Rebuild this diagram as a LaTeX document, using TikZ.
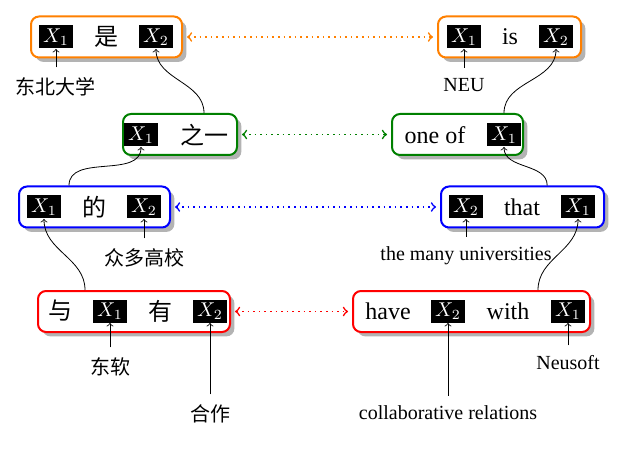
\documentclass[tikz,border=0pt]{standalone}
\usepackage{fontspec}
\setmainfont{Liberation Serif}
\newfontfamily\cjk{Noto Sans CJK SC}
\usetikzlibrary{positioning,shadows,backgrounds,calc}

\begin{document}
\begin{tikzpicture}[x=0.5pt, y=0.5pt,
    var/.style = {fill=black, text=white, inner sep=0pt, minimum width=17pt, minimum height=11.5pt},
    word/.style = {font=\large, inner sep=1pt},
    cnword/.style = {font=\large\cjk, inner sep=1pt},
    frame/.style = {draw, line width=1pt, rounded corners=4pt, fill=white,
      drop shadow={shadow xshift=2.2pt, shadow yshift=-2.2pt, opacity=.6}, minimum height=20.5pt},
    lbl/.style = {font=\cjk, inner sep=1pt},
    enlbl/.style = {inner sep=1pt},
    tag/.style = {->, shorten <=4pt},
    link/.style = {<->, thick, dotted, shorten <=2pt, shorten >=2pt}]
  \useasboundingbox (0,0) rectangle (631,-454);
  % top row
  \node[var] (oL1) at (56,-37) {$X_1$};
  \node[cnword, node distance=25pt, right of=oL1] (oLw) {是};
  \node[var, node distance=25pt, right of=oLw] (oL2) {$X_2$};
  \node[var] (oR1) at (464,-37) {$X_1$};
  \node[word, node distance=23pt, right of=oR1] (oRw) {is};
  \node[var, node distance=23pt, right of=oRw] (oR2) {$X_2$};
  % second row
  \node[var] (gL1) at (141,-135) {$X_1$};
  \node[cnword, node distance=31.5pt, right of=gL1] (gLw) {之一};
  \node[word] (gRw) at (435,-135) {one of};
  \node[var, node distance=34.5pt, right of=gRw] (gR1) {$X_1$};
  % third row
  \node[var] (bL1) at (44,-207) {$X_1$};
  \node[cnword, node distance=25pt, right of=bL1] (bLw) {的};
  \node[var, node distance=25pt, right of=bLw] (bL2) {$X_2$};
  \node[var] (bR2) at (466,-207) {$X_2$};
  \node[word, node distance=28pt, right of=bR2] (bRw) {that};
  \node[var, node distance=28pt, right of=bRw] (bR1) {$X_1$};
  % bottom row
  \node[cnword] (rLw) at (60,-311) {与};
  \node[var, node distance=25pt, right of=rLw] (rL1) {$X_1$};
  \node[cnword, node distance=25pt, right of=rL1] (rLy) {有};
  \node[var, node distance=25pt, right of=rLy] (rL2) {$X_2$};
  \node[word] (rRw) at (388,-311) {have};
  \node[var, node distance=30pt, right of=rRw] (rR2) {$X_2$};
  \node[word, node distance=30pt, right of=rR2] (rRw2) {with};
  \node[var, node distance=30pt, right of=rRw2] (rR1) {$X_1$};

  \begin{scope}[on background layer]
    \node[frame, draw=orange, minimum width=75.5pt] (oL) at (106.5,-37) {};
    \node[frame, draw=orange, minimum width=71.5pt] (oR) at (509.5,-37) {};
    \node[frame, draw=green!50!black, minimum width=57pt] (gL) at (180,-134.5) {};
    \node[frame, draw=green!50!black, minimum width=65.5pt] (gR) at (457.5,-134.5) {};
    \node[frame, draw=blue, minimum width=75.5pt] (bL) at (94.5,-207) {};
    \node[frame, draw=blue, minimum width=81.5pt] (bR) at (522.5,-207) {};
    \node[frame, draw=red, minimum width=96pt] (rL) at (134,-311.5) {};
    \node[frame, draw=red, minimum width=118.5pt] (rR) at (471.5,-311.5) {};
  \end{scope}

  % word labels
  \node[lbl, node distance=25pt, below of=oL1] (tDB) {东北大学};
  \node[enlbl, node distance=24pt, below of=oR1] (tNEU) {NEU};
  \node[lbl, node distance=25.5pt, below of=bL2] (tZD) {众多高校};
  \node[enlbl, node distance=24.5pt, below of=bR2] (tMU) {the many universities};
  \node[lbl, node distance=28pt, below of=rL1] (tDR) {东软};
  \node[lbl, node distance=51.5pt, below of=rL2] (tHZ) {合作};
  \node[enlbl, node distance=51pt, below of=rR2] (tCR) {collaborative relations};
  \node[enlbl, node distance=26pt, below of=rR1] (tNS) {Neusoft};
  \draw[tag] (tDB) -- (oL1);
  \draw[tag] (tNEU) -- (oR1);
  \draw[tag] (tZD) -- (bL2);
  \draw[tag] (tMU) -- (bR2);
  \draw[tag] (tDR) -- (rL1);
  \draw[tag] (tHZ) -- (rL2);
  \draw[tag] (tCR) -- (rR2);
  \draw[tag] (tNS) -- (rR1);

  % links between rules
  \coordinate (bLm) at ($(bL1)!0.5!(bLw)$);
  \coordinate (bRm) at ($(bRw)!0.45!(bR1)$);
  \coordinate (rLm) at ($(rLw)!0.5!(rL1)$);
  \coordinate (rRm) at ($(rRw2)!0.5!(rR1)$);
  \draw[->] (gLw |- gL.north) to[out=90, in=-90] (oL2.south);
  \draw[->] (gR1 |- gR.north) to[out=90, in=-90] (oR2.south);
  \draw[->] (bLm |- bL.north) to[out=90, in=-90] (gL1.south);
  \draw[->] (bRm |- bR.north) to[out=90, in=-90] (gR1.south);
  \draw[->] (rLm |- rL.north) to[out=90, in=-90] (bL1.south);
  \draw[->] (rRm |- rR.north) to[out=90, in=-90] (bR1.south);

  \draw[link, orange] (oL) -- (oR);
  \draw[link, green!50!black] (gL) -- (gR);
  \draw[link, blue] (bL) -- (bR);
  \draw[link, red] (rL) -- (rR);
\end{tikzpicture}
\end{document}
